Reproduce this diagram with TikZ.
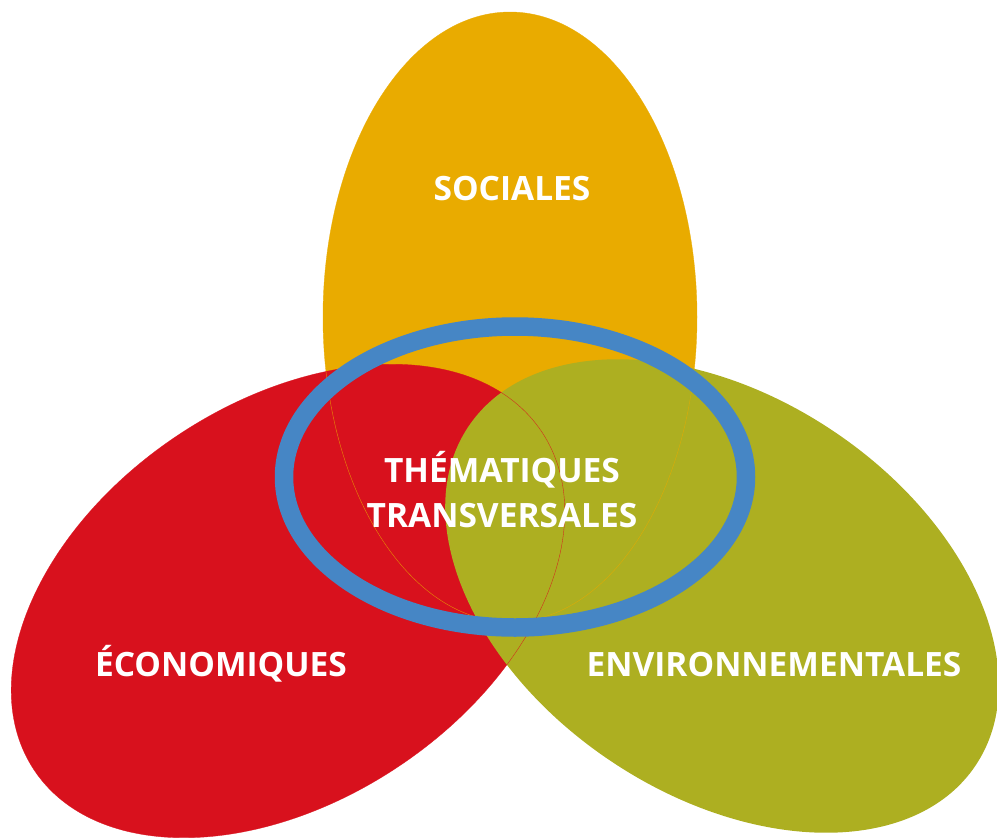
\documentclass[tikz,border=0pt]{standalone}
\usepackage{fontspec}
\setmainfont{Open Sans}
\definecolor{socyellow}{HTML}{E9AB00}
\definecolor{ecored}{HTML}{D8111D}
\definecolor{envgreen}{HTML}{ADAF21}
\definecolor{ringblue}{HTML}{4686C5}
\begin{document}
\begin{tikzpicture}[x=1pt,y=-1pt,
  lbl/.style={text=white, font=\fontsize{33.5}{45}\selectfont\bfseries, inner sep=0pt, anchor=base, align=center},
  hair/.style={line width=0.4pt, opacity=0.8}]
\useasboundingbox (0,0) rectangle (997,839);
\clip (0,0) rectangle (997,839);
% centres of the three domains and of the ring
\coordinate (cs) at (510,317);
\coordinate (ce) at (288,601);
\coordinate (cv) at (722,596);
\coordinate (cr) at (515,477);
% filled domains
\fill[socyellow] (cs) ellipse [x radius=187, y radius=305];
\fill[ecored, shift={(ce)}, rotate=33.7] (0,0) ellipse [x radius=305, y radius=199];
\fill[envgreen, shift={(cv)}, rotate=-33.7] (0,0) ellipse [x radius=305, y radius=199];
% fine outlines showing through the overlaps
\draw[socyellow, hair] (cs) ellipse [x radius=187, y radius=305];
\draw[ecored, hair, shift={(ce)}, rotate=33.7] (0,0) ellipse [x radius=305, y radius=199];
% transversal ring
\draw[ringblue, line width=18.5pt] (cr) ellipse [x radius=231, y radius=150.5];
% labels
\node[lbl] (soc) at (512,200) {SOCIALES};
\node[lbl] (eco) at (221,676) {ÉCONOMIQUES};
\node[lbl] (env) at (774,676) {ENVIRONNEMENTALES};
\node[lbl] (tra) at (502,527) {THÉMATIQUES\\TRANSVERSALES};
\end{tikzpicture}
\end{document}
